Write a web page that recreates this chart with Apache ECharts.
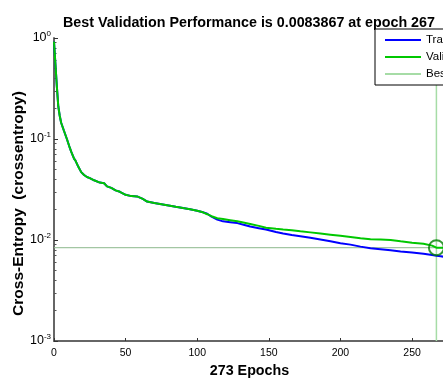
<!DOCTYPE html>
<html>
<head>
<meta charset="utf-8">
<script src="https://cdn.jsdelivr.net/npm/echarts@6/dist/echarts.min.js"></script>
<style>
html,body{margin:0;padding:0;background:#fff;}
#c{width:443px;height:379px;}
</style>
</head>
<body>
<div id="c"></div>
<script>
// ---- data ----
var epochs = [0,1,2,3,4,5,7,9,11,12,14,15,17,19,21,23,25,28,32,35,37,40,43,46,50,54,58,62,65,70,75,80,85,90,95,100,104,107,110,114,118,123,128,133,137,143,148,155,160,166,172,179,186,193,200,207,214,221,228,235,242,250,258,264,267,270,273];
var trainVals = [0.92,0.55,0.33,0.21,0.17,0.145,0.12,0.1,0.082,0.075,0.064,0.061,0.053,0.047,0.044,0.042,0.041,0.039,0.037,0.0365,0.034,0.0328,0.031,0.030,0.028,0.0272,0.027,0.0255,0.024,0.0232,0.0226,0.022,0.0213,0.0207,0.0202,0.0195,0.0188,0.0182,0.0170,0.0159,0.0153,0.0150,0.0147,0.0141,0.0136,0.0131,0.0127,0.0120,0.0116,0.0112,0.0109,0.0105,0.0101,0.0097,0.0093,0.0090,0.0086,0.0083,0.0081,0.0079,0.0077,0.0075,0.0073,0.0071,0.0070,0.0069,0.0068];
var valVals = [0.92,0.55,0.33,0.21,0.17,0.145,0.12,0.1,0.082,0.075,0.064,0.061,0.053,0.047,0.044,0.042,0.041,0.039,0.037,0.0365,0.034,0.0328,0.031,0.030,0.028,0.0272,0.027,0.0255,0.024,0.0232,0.0226,0.022,0.0213,0.0207,0.0202,0.0195,0.0188,0.0180,0.0172,0.0164,0.0161,0.0157,0.0153,0.0148,0.0144,0.0138,0.0132,0.0129,0.0127,0.0125,0.0122,0.0119,0.0116,0.0113,0.0110,0.0107,0.0104,0.0102,0.0101,0.0100,0.0097,0.0094,0.0092,0.0088,0.0083867,0.0084,0.0084];
var bestEpoch = 267;
var bestVal = 0.0083867;
var totalEpochs = 273;
var yMin = 0.001, yMax = 1;
var yMajor = [0.001,0.01,0.1,1];
var yMinor = [];
[0.001,0.01,0.1].forEach(function(d){for(var k=2;k<=9;k++){yMinor.push(+(d*k).toPrecision(3));}});
var seriesNames = ['Train','Validation','Best'];
var titleText = 'Best Validation Performance is ' + bestVal + ' at epoch ' + bestEpoch;

function pairs(xs, ys){ return xs.map(function(x,i){return [x, ys[i]];}); }

var FONT = '"Liberation Sans", Arial, sans-serif';
var chart = echarts.init(document.getElementById('c'), null, {renderer:'canvas'});
var axisGray = '#666666';
var bestColor = '#a6dca6';
var option = {
  animation: false,
  backgroundColor: '#ffffff',
  title: {
    text: titleText,
    left: 244, top: 11, textAlign: 'center',
    textStyle: {fontFamily: FONT, fontSize: 14.3, fontWeight: 'bold', color: '#000'}
  },
  legend: {
    data: seriesNames,
    orient: 'vertical',
    left: 375, top: 29,
    padding: [5, 20, 5, 9],
    itemWidth: 36, itemHeight: 12, itemGap: 5,
    backgroundColor: '#fff',
    borderColor: '#000', borderWidth: 1,
    itemStyle: {opacity: 0},
    textStyle: {fontFamily: FONT, fontSize: 11.5, color: '#000'},
    z: 20
  },
  grid: {left: 54, top: 38, width: 391, height: 303, containLabel: false, outerBoundsMode: 'none'},
  xAxis: {
    type: 'value', min: 0, max: totalEpochs, interval: 50,
    name: totalEpochs + ' Epochs', nameLocation: 'middle', nameGap: 22,
    nameTextStyle: {fontFamily: FONT, fontSize: 14.3, fontWeight: 'bold', color: '#000'},
    axisLine: {show: true, lineStyle: {color: axisGray, width: 2}},
    axisTick: {show: true, inside: true, length: 3, lineStyle: {color: '#333', width: 1}},
    axisLabel: {fontFamily: FONT, fontSize: 10.5, color: '#000', margin: 7, showMaxLabel: false},
    splitLine: {show: false}
  },
  yAxis: [{
    type: 'log', logBase: 10, min: yMin, max: yMax,
    name: 'Cross-Entropy  (crossentropy)', nameLocation: 'middle', nameGap: 27, nameMoveOverlap: false,
    nameTextStyle: {fontFamily: FONT, fontSize: 15.5, fontWeight: 'bold', color: '#000', padding: [0, 28, 0, 0]},
    axisLine: {show: true, lineStyle: {color: axisGray, width: 2}},
    axisTick: {show: true, inside: true, length: 4, lineStyle: {color: '#333', width: 1}, customValues: yMajor},
    axisLabel: {
      margin: 3, customValues: yMajor,
      formatter: function(v){ var e = Math.round(Math.log10(v)); return '{b|10}{s|' + e + '}'; },
      rich: {
        b: {fontFamily: FONT, fontSize: 12.5, color: '#000'},
        s: {fontFamily: FONT, fontSize: 8, color: '#000', verticalAlign: 'bottom', padding: [0,0,8,0]}
      }
    },
    splitLine: {show: false}, minorTick: {show: false}
  }, {
    type: 'log', logBase: 10, min: yMin, max: yMax, position: 'left',
    axisLine: {show: false},
    axisTick: {show: true, inside: true, length: 2.5, lineStyle: {color: '#555', width: 1}, customValues: yMinor},
    axisLabel: {show: false},
    splitLine: {show: false}
  }],
  series: [
    {
      name: 'Best', type: 'line', data: [[bestEpoch, yMin], [bestEpoch, yMax]], symbol: 'none', showSymbol: false,
      itemStyle: {color: bestColor},
      lineStyle: {color: bestColor, width: 1.5}, z: 2, silent: true
    },
    {
      name: 'BestH', type: 'line', data: [[0, bestVal], [totalEpochs, bestVal]], symbol: 'none', showSymbol: false,
      lineStyle: {color: '#8cb88c', width: 1}, z: 2, silent: true
    },
    {
      name: 'Train', type: 'line', data: pairs(epochs, trainVals),
      showSymbol: false, symbol: 'none', smooth: false,
      itemStyle: {color: '#0000ff'},
      lineStyle: {color: '#0000ff', width: 2}, z: 3
    },
    {
      name: 'Validation', type: 'line', data: pairs(epochs, valVals),
      showSymbol: false, symbol: 'none', smooth: false,
      itemStyle: {color: '#00c800'},
      lineStyle: {color: '#00c800', width: 2}, z: 4
    },
    {
      name: 'BestPoint', type: 'scatter', data: [[bestEpoch, bestVal]],
      symbol: 'circle', symbolSize: 15,
      itemStyle: {color: 'rgba(0,0,0,0)', borderColor: '#008000', borderWidth: 2}, z: 6
    }
  ]
};
chart.setOption(option);
</script>
</body>
</html>
